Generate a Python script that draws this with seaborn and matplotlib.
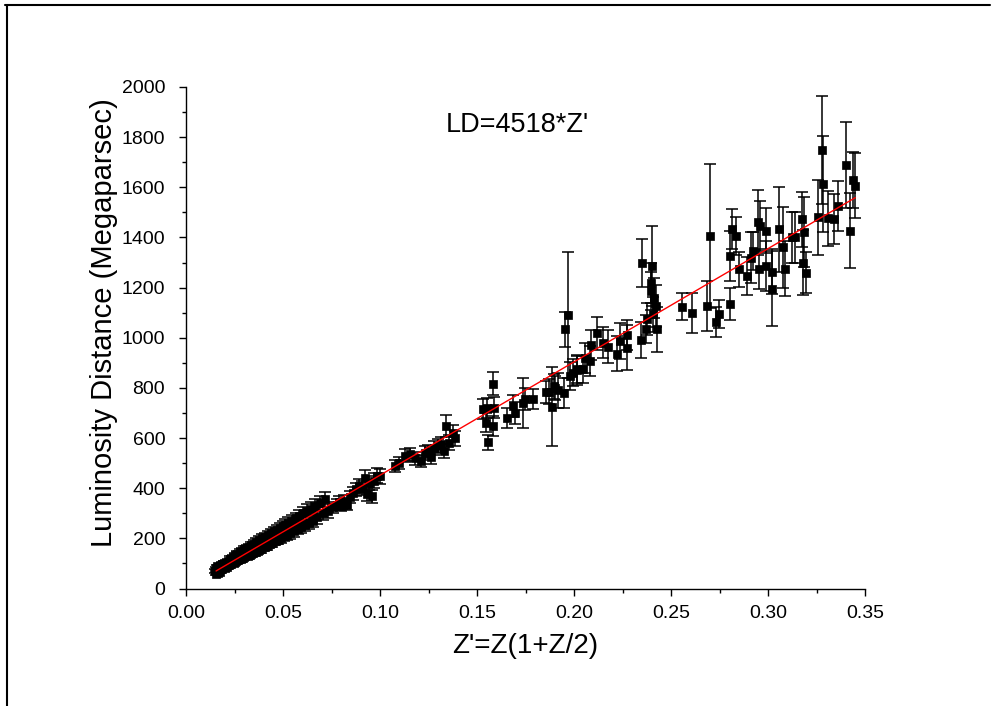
import matplotlib
matplotlib.use("Agg")
import matplotlib.pyplot as plt
from matplotlib.lines import Line2D
from matplotlib.ticker import MultipleLocator, FormatStrFormatter
import pandas as pd
import seaborn as sns

# Z' = Z(1+Z/2) values, luminosity distance (Mpc) and its error
z_prime = [
    0.0150, 0.0153, 0.0156, 0.0158, 0.0160, 0.0163, 0.0166, 0.0168, 0.0171, 0.0174,
    0.0177, 0.0180, 0.0184, 0.0188, 0.0192, 0.0196, 0.0200,
    0.0205, 0.0210, 0.0216, 0.0222, 0.0228, 0.0234, 0.0240, 0.0246, 0.0252, 0.0258,
    0.0264, 0.0270, 0.0276, 0.0282, 0.0288, 0.0294, 0.0300, 0.0306, 0.0312, 0.0318,
    0.0324, 0.0330, 0.0336, 0.0342, 0.0348,
    0.0355, 0.0362, 0.0370, 0.0378, 0.0385, 0.0392, 0.0400, 0.0408, 0.0415, 0.0422,
    0.0430, 0.0438, 0.0445, 0.0452, 0.0460, 0.0468, 0.0475, 0.0482, 0.0490, 0.0498,
    0.0505, 0.0512, 0.0520, 0.0528, 0.0535, 0.0545, 0.0555, 0.0565, 0.0575, 0.0585,
    0.0595, 0.0605, 0.0615, 0.0625, 0.0635, 0.0645, 0.0655, 0.0665, 0.0675, 0.0690,
    0.0705, 0.0718, 0.0730,
    0.0760, 0.0778, 0.0790, 0.0800, 0.0815, 0.0830, 0.0845, 0.0860, 0.0878, 0.0890,
    0.0905, 0.0923, 0.0931, 0.0945, 0.0957, 0.0970, 0.0985, 0.0999,
    0.1076, 0.1100, 0.1130, 0.1153, 0.1180, 0.1213, 0.1230, 0.1247, 0.1264, 0.1280,
    0.1298, 0.1315, 0.1332, 0.1340, 0.1358, 0.1375, 0.1385,
    0.1529, 0.1545, 0.1554, 0.1557, 0.1580, 0.1585, 0.1588, 0.1653, 0.1687, 0.1694,
    0.1738, 0.1748, 0.1790, 0.1858, 0.1870, 0.1887, 0.1899, 0.1904, 0.1920, 0.1950,
    0.1952, 0.1969, 0.1980, 0.1997, 0.2015, 0.2018, 0.2046, 0.2057, 0.2083, 0.2087,
    0.2117, 0.2148, 0.2177, 0.2223, 0.2236, 0.2274, 0.2274, 0.2347, 0.2352, 0.2370,
    0.2376, 0.2399, 0.2399, 0.2404, 0.2407, 0.2410, 0.2421, 0.2427,
    0.2555, 0.2606, 0.2688, 0.2700, 0.2734, 0.2748, 0.2803, 0.2803, 0.2816, 0.2834,
    0.2851, 0.2893, 0.2910, 0.2922, 0.2949, 0.2958, 0.2953, 0.2990, 0.2990, 0.3021,
    0.3021, 0.3059, 0.3076, 0.3086, 0.3123, 0.3140, 0.3175, 0.3178, 0.3188, 0.3195,
    0.3260, 0.3277, 0.3282, 0.3308, 0.3342, 0.3359, 0.3400, 0.3422, 0.3436, 0.3448,
]
lum_dist = [
    70, 58, 80, 64, 88, 72, 62, 84, 74, 92,
    66, 86, 96, 76, 90, 100, 82,
    100, 85, 110, 92, 118, 98, 125, 100, 132, 108,
    138, 112, 145, 118, 150, 122, 158, 128, 162, 130,
    165, 135, 172, 140, 178,
    145, 185, 150, 192, 158, 200, 165, 205, 170, 212,
    178, 220, 182, 228, 190, 235, 195, 242, 200, 250,
    208, 255, 212, 262, 220, 270, 228, 280, 238, 290,
    245, 300, 255, 310, 262, 318, 270, 330, 285, 340,
    300, 355, 310,
    325, 335, 345, 330, 350, 335, 365, 380, 395, 410,
    400, 442, 375, 420, 368, 430, 450, 448,
    488, 500, 530, 535, 520, 508, 540, 548, 523, 560,
    568, 575, 548, 648, 582, 621, 600,
    715, 661, 721, 584, 648, 817, 721, 681, 728, 701,
    741, 755, 757, 784, 784, 725, 807, 801, 790, 778,
    1034, 1090, 848, 861, 874, 871, 874, 921, 907, 970,
    1017, 981, 965, 937, 987, 961, 1010, 991, 1297, 1034,
    1074, 1220, 1187, 1287, 1094, 1160, 1127, 1034,
    1124, 1100, 1127, 1406, 1063, 1094, 1134, 1327, 1433, 1406,
    1273, 1247, 1320, 1347, 1460, 1447, 1273, 1287, 1427, 1263,
    1196, 1433, 1360, 1276, 1400, 1400, 1473, 1300, 1422, 1260,
    1480, 1750, 1613, 1476, 1473, 1526, 1689, 1427, 1629, 1606,
]
ld_err = [
    7, 6, 7, 6, 7, 6, 6, 7, 6, 7,
    6, 7, 7, 7, 7, 8, 7,
    9, 8, 9, 9, 10, 9, 10, 10, 11, 10,
    11, 11, 12, 11, 12, 11, 13, 12, 13, 12,
    13, 13, 14, 13, 14,
    14, 15, 14, 16, 15, 16, 15, 17, 16, 17,
    17, 18, 17, 19, 18, 19, 18, 20, 19, 20,
    20, 21, 20, 22, 21, 22, 21, 23, 22, 24,
    23, 25, 24, 26, 25, 26, 25, 27, 26, 28,
    27, 28, 27,
    22, 22, 23, 22, 24, 22, 25, 26, 27, 28,
    27, 30, 25, 28, 25, 29, 30, 30,
    24, 25, 26, 25, 26, 25, 27, 26, 27, 28,
    29, 29, 28, 45, 30, 31, 30,
    40, 38, 40, 30, 40, 47, 42, 40, 45, 43,
    100, 45, 40, 45, 50, 157, 50, 48, 70, 60,
    70, 250, 55, 55, 55, 60, 55, 60, 60, 60,
    65, 60, 65, 70, 70, 90, 60, 70, 95, 55,
    65, 80, 75, 160, 70, 80, 85, 90,
    55, 80, 100, 286, 60, 55, 65, 100, 80, 75,
    70, 75, 100, 75, 130, 100, 80, 100, 90, 90,
    150, 170, 160, 110, 100, 100, 110, 130, 140, 80,
    150, 215, 190, 110, 100, 100, 173, 150, 110, 130,
]

slope = 4518
fit_x = [0.0155, 0.345]

df = pd.DataFrame({"z": z_prime, "ld": lum_dist, "err": ld_err})
df_fit = pd.DataFrame({"z": fit_x, "ld": [slope * v for v in fit_x]})

sns.set_theme(style="ticks")
plt.rcParams["font.family"] = ["Liberation Sans", "DejaVu Sans"]

fig = plt.figure(figsize=(10, 7.06), dpi=100)
ax = fig.add_axes([0.186, 0.1664, 0.679, 0.7104])

ax.errorbar(df["z"], df["ld"], yerr=df["err"], fmt="none", ecolor="black",
            elinewidth=1.1, capsize=4, capthick=1.1, zorder=2)
sns.scatterplot(data=df, x="z", y="ld", marker="s", s=28, color="black",
                edgecolor="black", linewidth=0.5, ax=ax, zorder=3)
sns.lineplot(data=df_fit, x="z", y="ld", color="red", linewidth=1.0, ax=ax, zorder=4)

ax.set_xlim(0, 0.35)
ax.set_ylim(0, 2000)
ax.xaxis.set_major_locator(MultipleLocator(0.05))
ax.xaxis.set_minor_locator(MultipleLocator(0.025))
ax.yaxis.set_major_locator(MultipleLocator(200))
ax.yaxis.set_minor_locator(MultipleLocator(100))
ax.xaxis.set_major_formatter(FormatStrFormatter("%.2f"))
ax.tick_params(which="major", direction="out", length=5, width=1, colors="black",
               labelsize=14, pad=7)
ax.tick_params(axis="y", which="major", pad=10)
ax.tick_params(which="minor", direction="out", length=3, width=1, colors="black")
for side in ["top", "right"]:
    ax.spines[side].set_visible(False)
for side in ["left", "bottom"]:
    ax.spines[side].set_color("black")
    ax.spines[side].set_linewidth(1)

ax.set_xlabel("Z'=Z(1+Z/2)", fontsize=20, labelpad=8, color="black")
ax.set_ylabel("Luminosity Distance (Megaparsec)", fontsize=21, color="black")
ax.yaxis.set_label_coords(-0.10, 0.53)
ax.text(0.171, 1848, "LD=4518*Z'", fontsize=19.5, ha="center", va="center", color="black")

# outer frame (top and left edges only)
fig.add_artist(Line2D([0.005, 0.99], [0.993, 0.993], transform=fig.transFigure,
                      color="black", linewidth=1.5))
fig.add_artist(Line2D([0.007, 0.007], [0.0, 0.993], transform=fig.transFigure,
                      color="black", linewidth=1.5))

fig.savefig("out.png", dpi=100, facecolor="white")
